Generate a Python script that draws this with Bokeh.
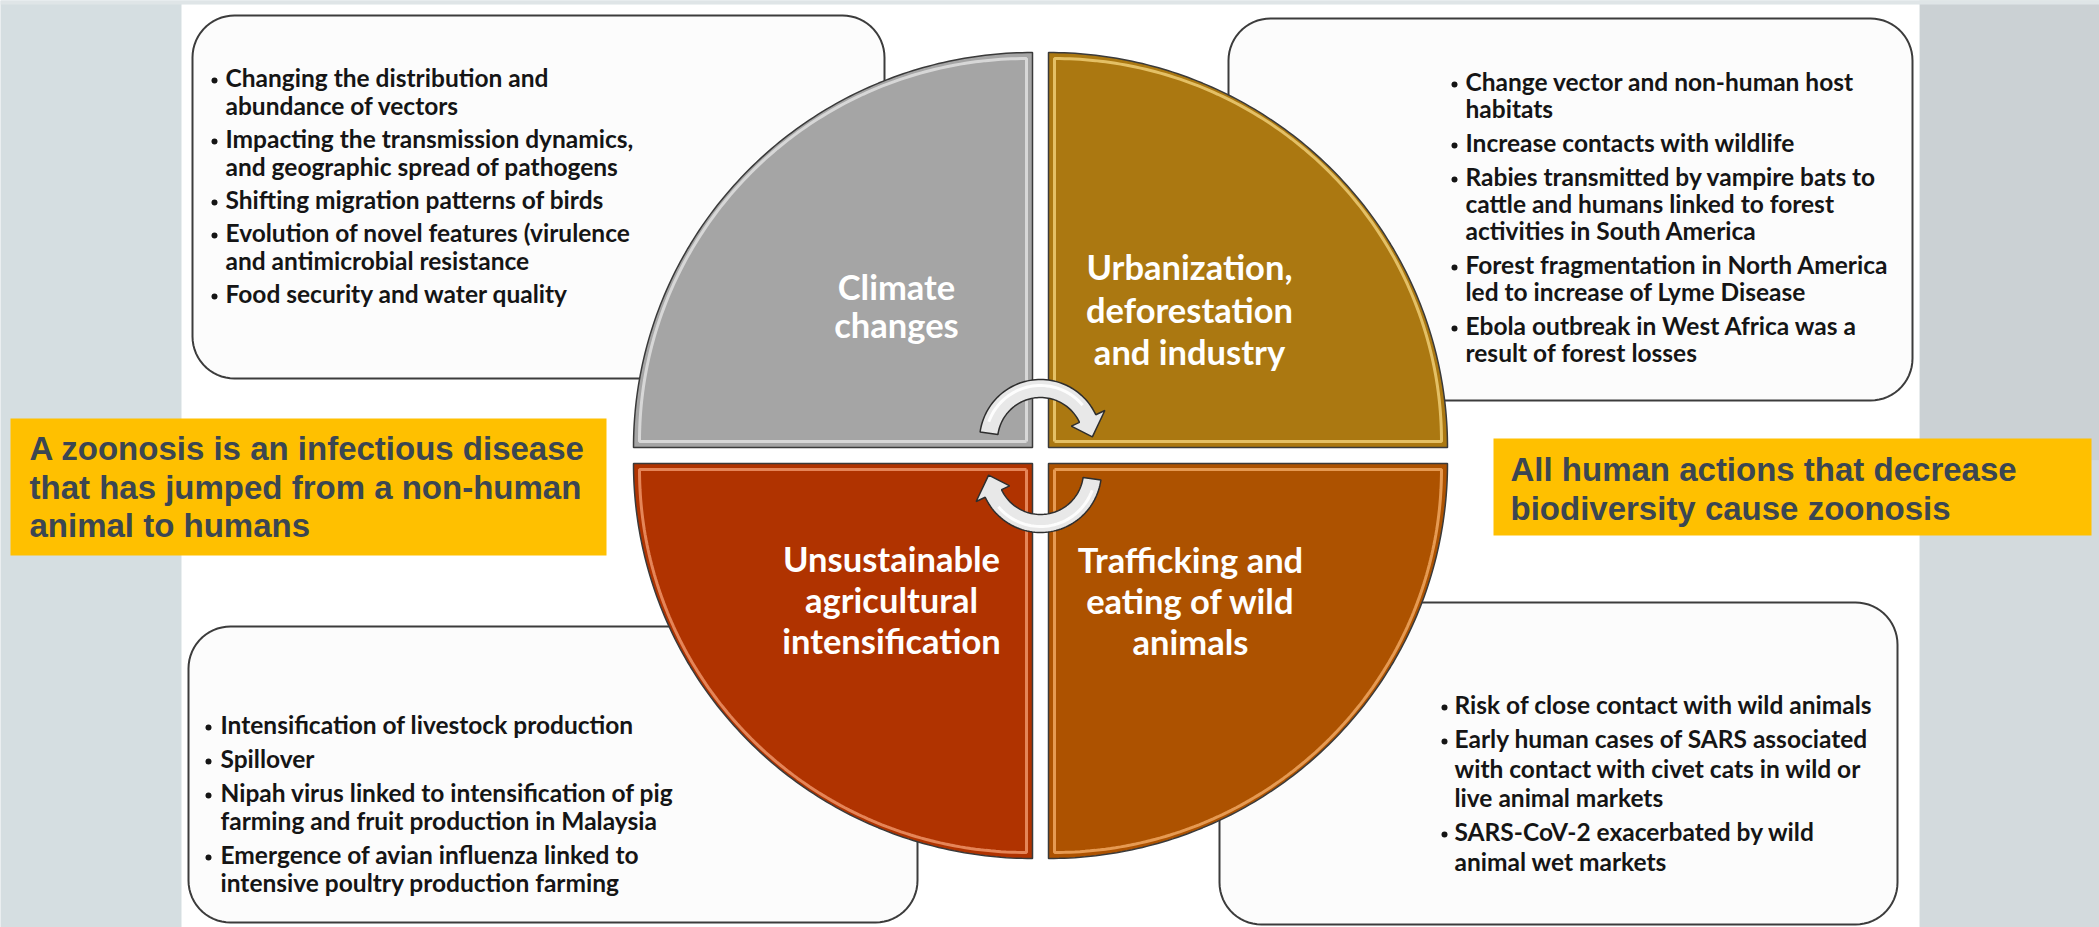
import numpy as np
from bokeh.plotting import figure
from bokeh.models import Range1d
from bokeh.core.properties import value
from bokeh.embed import file_html
from bokeh.resources import INLINE

# ---------------- data ----------------
quadrant_labels = [
    ["Climate", "changes"],
    ["Urbanization,", "deforestation", "and industry"],
    ["Unsustainable", "agricultural", "intensification"],
    ["Trafficking and", "eating of wild", "animals"],
]
quadrant_colors = ["#a5a5a5", "#ab7811", "#b03300", "#ad5200"]
quadrant_glow = ["#e4e4e4", "#f3d27a", "#f29a6e", "#f4ad66"]

box_top_left = [
    ["Changing  the distribution and", "abundance of vectors"],
    ["Impacting the transmission dynamics,", "and geographic spread of pathogens"],
    ["Shifting migration patterns of birds"],
    ["Evolution of novel features (virulence", "and antimicrobial resistance"],
    ["Food security and water quality"],
]
box_top_right = [
    ["Change vector and non-human host", "habitats"],
    ["Increase contacts with wildlife"],
    ["Rabies transmitted by vampire bats to", "cattle and humans linked to forest",
     "activities in South America"],
    ["Forest fragmentation in North America", "led to increase of Lyme Disease"],
    ["Ebola outbreak in West Africa was a", "result of forest losses"],
]
box_bottom_left = [
    ["Intensification of livestock production"],
    ["Spillover"],
    ["Nipah virus linked to intensification of pig", "farming and fruit production in Malaysia"],
    ["Emergence of avian influenza linked to", "intensive poultry production farming"],
]
box_bottom_right = [
    ["Risk of close contact with wild animals"],
    ["Early human cases of SARS associated", "with contact with civet cats in wild or",
     "live animal markets"],
    ["SARS-CoV-2  exacerbated by wild", "animal wet markets"],
]
note_left = ["A zoonosis is an infectious disease", "that has jumped from a non-human",
             "animal to humans"]
note_right = ["All human actions that decrease", "biodiversity cause zoonosis"]

# ---------------- figure ----------------
W, H = 2099, 927
p = figure(width=W, height=H, x_range=Range1d(0, W), y_range=Range1d(H, 0),
           output_backend="svg", toolbar_location=None, min_border=0,
           x_axis_type=None, y_axis_type=None)
p.grid.visible = False
p.outline_line_color = None
p.background_fill_color = "#d5dee1"
p.border_fill_color = "#d5dee1"

# right textured strip and white panel
p.quad(left=[1919], right=[2100], top=[0], bottom=[460], fill_color="#cbd1d4", line_color=None)
p.quad(left=[1919], right=[2100], top=[460], bottom=[930], fill_color="#d3dadd", line_color=None)
p.quad(left=[0], right=[2100], top=[0], bottom=[4], fill_color="#dfe5e7", line_color=None)
p.quad(left=[181], right=[1919], top=[4], bottom=[930], fill_color="#ffffff", line_color=None)


def rounded(x0, y0, x1, y1, r, n=16):
    xs, ys = [], []
    for cx, cy, a0, a1 in [(x1 - r, y0 + r, -90, 0), (x1 - r, y1 - r, 0, 90),
                           (x0 + r, y1 - r, 90, 180), (x0 + r, y0 + r, 180, 270)]:
        t = np.radians(np.linspace(a0, a1, n))
        xs.extend(cx + r * np.cos(t))
        ys.extend(cy + r * np.sin(t))
    return xs, ys


boxes = [(192, 15, 884, 378), (1228, 18, 1912, 400), (188, 626, 917, 922), (1219, 602, 1897, 924)]
for b in boxes:
    xs, ys = rounded(*b, 42)
    p.patch(xs, ys, fill_color="#fcfcfc", line_color="#3c3c3c", line_width=2)

# ---------------- quadrants ----------------
CX, CY, HG = 1040, 455, 8
RX, RY = 399, 395
signs = [(-1, -1), (1, -1), (-1, 1), (1, 1)]
t = np.radians(np.linspace(0, 90, 120))
for (sx, sy), col, glow in zip(signs, quadrant_colors, quadrant_glow):
    qx, qy = CX + sx * HG, CY + sy * HG
    xs = [qx] + list(qx + sx * RX * np.cos(t)) + [qx]
    ys = [qy] + list(qy + sy * RY * np.sin(t)) + [qy + sy * RY]
    p.patch(xs, ys, fill_color=col, line_color="#3a3a3a", line_width=1.5)
    ins = 6
    ix, iy = qx + sx * ins, qy + sy * ins
    gx = [ix] + list(ix + sx * (RX - 2 * ins) * np.cos(t)) + [ix]
    gy = [iy] + list(iy + sy * (RY - 2 * ins) * np.sin(t)) + [iy]
    p.line(gx, gy, line_color=glow, line_width=3, line_alpha=0.8)


# ---------------- arrows ----------------
def arrow(cx, cy, rot):
    r_in, r_out = 43, 61
    a = np.radians(np.linspace(172, 25, 60)) + np.radians(rot)
    ox = cx + r_out * np.cos(a); oy = cy - r_out * np.sin(a)
    ix = cx + r_in * np.cos(a[::-1]); iy = cy - r_in * np.sin(a[::-1])
    ab = np.radians(25 + rot); at = np.radians(4 + rot)
    rm = (r_in + r_out) / 2
    head_x = [cx + 71 * np.cos(ab), cx + rm * np.cos(at), cx + 34 * np.cos(ab)]
    head_y = [cy - 71 * np.sin(ab), cy - rm * np.sin(at), cy - 34 * np.sin(ab)]
    xs = list(ox) + head_x + list(ix)
    ys = list(oy) + head_y + list(iy)
    p.patch(xs, ys, fill_color="#e8e8e8", line_color="#2e2e2e", line_width=1.5)
    m = np.radians(np.linspace(160, 40, 40)) + np.radians(rot)
    p.line(cx + (rm + 3) * np.cos(m), cy - (rm + 3) * np.sin(m), line_color="#ffffff",
           line_width=3, line_alpha=0.9)


arrow(1040, 440, 0)
arrow(1040, 471, 180)

# ---------------- notes ----------------
p.quad(left=[10], right=[606], top=[418], bottom=[555], fill_color="#ffc000", line_color=None)
p.quad(left=[1493], right=[2091], top=[438], bottom=[535], fill_color="#ffc000", line_color=None)

NOTE_FONT = value("Liberation Sans")
p.text(x=[29] * len(note_left), y=[448 + 38.5 * i for i in range(len(note_left))], text=note_left,
       text_font=NOTE_FONT, text_font_size="33px", text_font_style="bold",
       text_color="#3b4652", text_baseline="alphabetic", text_align="left")
p.text(x=[1510] * len(note_right), y=[469 + 38.5 * i for i in range(len(note_right))], text=note_right,
       text_font=NOTE_FONT, text_font_size="33px", text_font_style="bold",
       text_color="#3b4652", text_baseline="alphabetic", text_align="left")

# ---------------- quadrant labels ----------------
label_pos = [(896, 286, 37.5), (1189, 266, 42.5), (891, 558, 41), (1190, 559, 41)]
for lines, (lx, ly, step) in zip(quadrant_labels, label_pos):
    p.text(x=[lx] * len(lines), y=[ly + step * i for i in range(len(lines))], text=lines,
           text_font=value("Lato"), text_font_size="34.5px", text_font_style="bold",
           text_color="#ffffff", text_baseline="alphabetic", text_align="center")

# ---------------- bullet text ----------------
box_text = [
    (box_top_left, 214, 225, 77, 28, 5),
    (box_top_right, 1454, 1465, 81, 27, 7),
    (box_bottom_left, 208, 220, 724, 28, 6),
    (box_bottom_right, 1444, 1454, 704, 29.5, 4.5),
]
for items, bx, tx, y0, step, extra in box_text:
    y = y0
    lx, ly, lt, bxs, bys = [], [], [], [], []
    for item in items:
        bxs.append(bx); bys.append(y)
        for line in item:
            lx.append(tx); ly.append(y); lt.append(line)
            y += step
        y += extra
    p.text(x=lx, y=ly, text=lt, text_font=value("Lato"), text_font_size="24.5px",
           text_font_style="bold", text_color="#151515", text_baseline="alphabetic",
           text_align="left")
    p.scatter(x=bxs, y=[v + 3 for v in bys], size=6, marker="circle",
              fill_color="#151515", line_color=None)

open("out.html", "w").write(file_html(p, INLINE))
